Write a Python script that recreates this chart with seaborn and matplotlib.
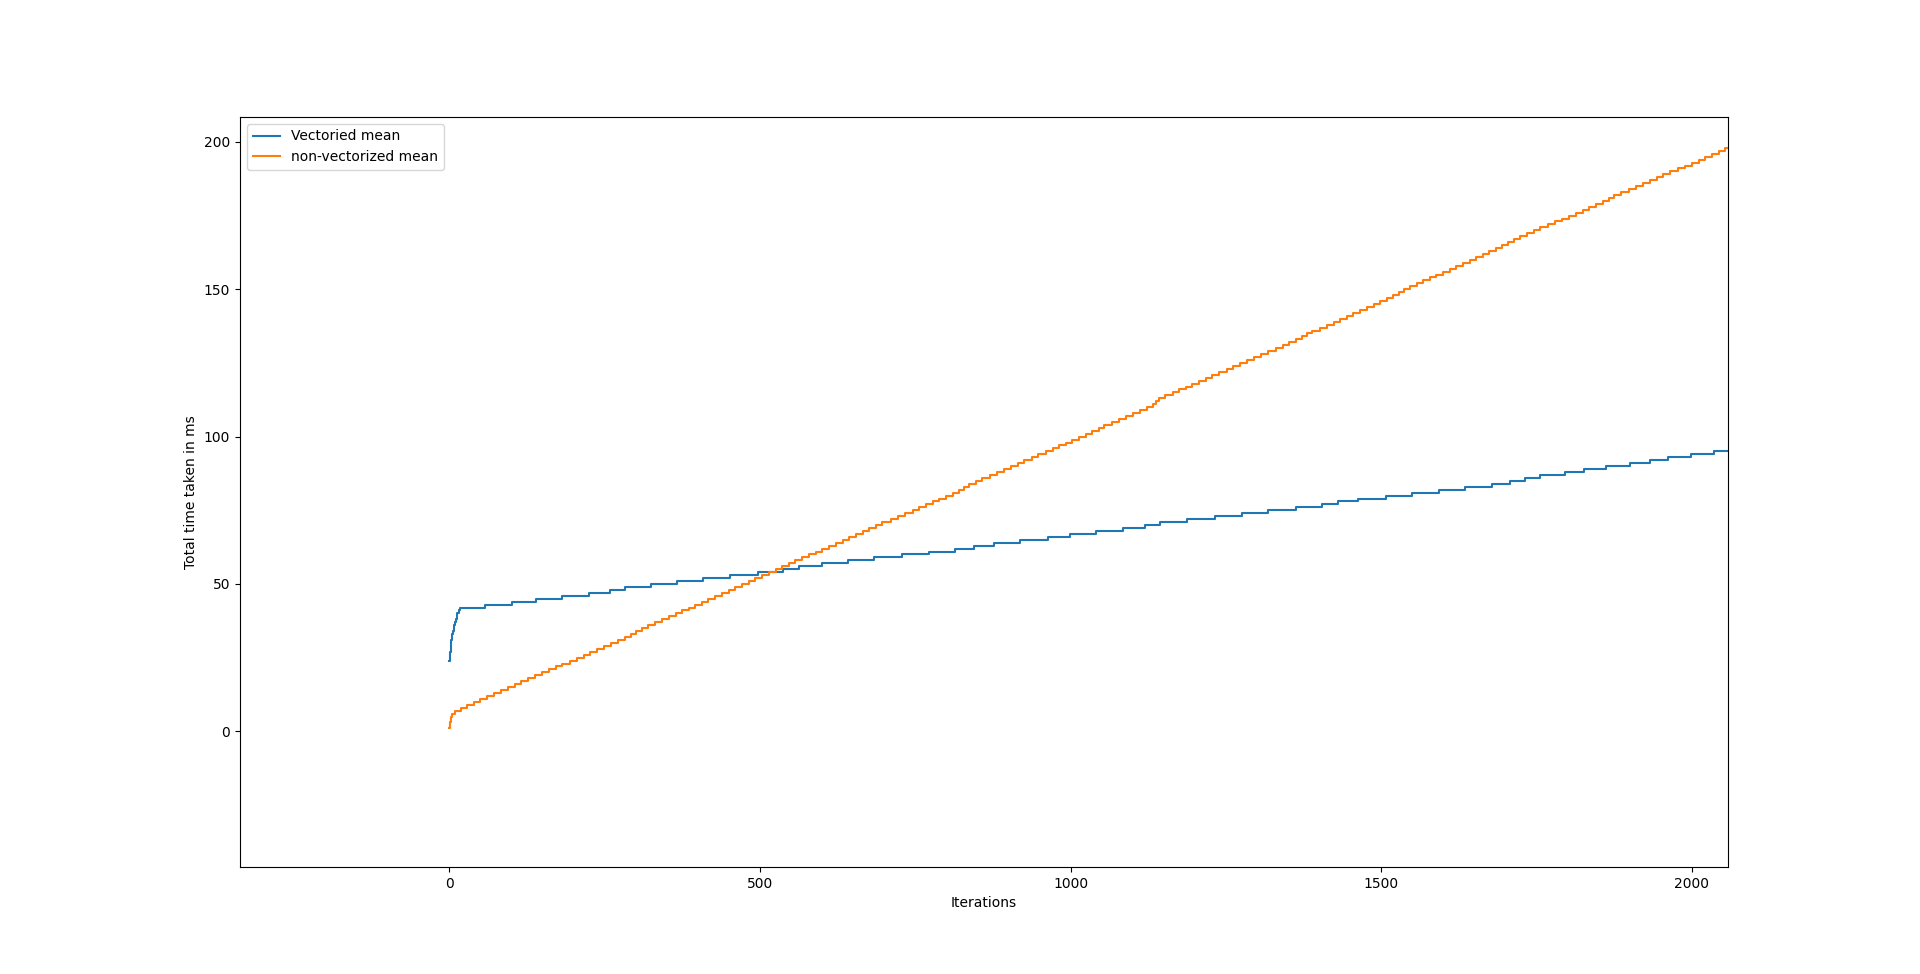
import numpy as np
import pandas as pd
import seaborn as sns
import matplotlib.pyplot as plt

# iteration at which each cumulative time (ms) is first reached
vec_iters = [0, 1, 2, 3, 4, 5, 6, 7, 8, 9, 10, 12, 13, 15, 17,
             57, 100, 139, 182, 224, 259, 283, 325, 366, 408,
             452, 497, 537, 563, 600, 642, 684, 728, 772, 814,
             844, 876, 918, 963, 999, 1041, 1085, 1119, 1144, 1187,
             1232, 1276, 1318, 1363, 1404, 1431, 1463, 1507, 1549, 1593,
             1634, 1678, 1707, 1732, 1756, 1795, 1827, 1862, 1901, 1933,
             1962, 1999, 2036, 2058]
vec_ms = [24, 27, 29, 31, 32, 33, 34, 35, 36, 37, 38, 39, 40, 41, 42,
          43, 44, 45, 46, 47, 48, 49, 50, 51, 52,
          53, 54, 55, 56, 57, 58, 59, 60, 61, 62,
          63, 64, 65, 66, 67, 68, 69, 70, 71, 72,
          73, 74, 75, 76, 77, 78, 79, 80, 81, 82,
          83, 84, 85, 86, 87, 88, 89, 90, 91, 92,
          93, 94, 95, 95]

nonvec_iters = [0, 1, 2, 3, 4,
                9, 18, 29, 40, 50, 61, 72, 83, 94, 105,
                116, 127, 138, 149, 160, 171, 182, 194, 205, 216,
                227, 238, 249, 260, 271, 282, 292, 300, 310, 320,
                331, 342, 353, 364, 374, 385, 396, 407, 417, 428,
                439, 450, 460, 471, 482, 492, 503, 514, 525, 536,
                547, 557, 568, 579, 590, 600, 611, 622, 633, 643,
                654, 665, 676, 686, 697, 711, 722, 734, 746, 756,
                767, 778, 788, 800, 810, 821, 829, 837, 848, 858,
                870, 881, 892, 904, 915, 925, 938, 948, 960, 971,
                982, 992, 1002, 1013, 1024, 1035, 1045, 1054, 1066, 1078,
                1089, 1100, 1112, 1123, 1132, 1137, 1142, 1152, 1164, 1175,
                1185, 1196, 1207, 1218, 1228, 1239, 1251, 1262, 1273, 1284,
                1295, 1306, 1318, 1330, 1341, 1352, 1362, 1373, 1381, 1389,
                1402, 1413, 1424, 1434, 1444, 1455, 1466, 1477, 1488, 1498,
                1509, 1519, 1528, 1536, 1546, 1557, 1567, 1578, 1588, 1599,
                1610, 1621, 1632, 1643, 1653, 1664, 1674, 1684, 1694, 1704,
                1714, 1724, 1734, 1745, 1756, 1768, 1779, 1791, 1802, 1814,
                1825, 1835, 1846, 1857, 1866, 1875, 1886, 1898, 1910, 1921,
                1932, 1943, 1953, 1965, 1977, 1988, 2000, 2011, 2021, 2032,
                2043, 2053, 2058]
nonvec_ms = [1, 3, 4, 5, 6,
             7, 8, 9, 10, 11, 12, 13, 14, 15, 16,
             17, 18, 19, 20, 21, 22, 23, 24, 25, 26,
             27, 28, 29, 30, 31, 32, 33, 34, 35, 36,
             37, 38, 39, 40, 41, 42, 43, 44, 45, 46,
             47, 48, 49, 50, 51, 52, 53, 54, 55, 56,
             57, 58, 59, 60, 61, 62, 63, 64, 65, 66,
             67, 68, 69, 70, 71, 72, 73, 74, 75, 76,
             77, 78, 79, 80, 81, 82, 83, 84, 85, 86,
             87, 88, 89, 90, 91, 92, 93, 94, 95, 96,
             97, 98, 99, 100, 101, 102, 103, 104, 105, 106,
             107, 108, 109, 110, 111, 112, 113, 114, 115, 116,
             117, 118, 119, 120, 121, 122, 123, 124, 125, 126,
             127, 128, 129, 130, 131, 132, 133, 134, 135, 136,
             137, 138, 139, 140, 141, 142, 143, 144, 145, 146,
             147, 148, 149, 150, 151, 152, 153, 154, 155, 156,
             157, 158, 159, 160, 161, 162, 163, 164, 165, 166,
             167, 168, 169, 170, 171, 172, 173, 174, 175, 176,
             177, 178, 179, 180, 181, 182, 183, 184, 185, 186,
             187, 188, 189, 190, 191, 192, 193, 194, 195, 196,
             197, 198, 198]

fig, ax = plt.subplots(figsize=(19.2, 9.74), dpi=100)

sns.lineplot(x=vec_iters, y=vec_ms, ax=ax, color='tab:blue',
             label='Vectoried mean', drawstyle='steps-post',
             estimator=None, sort=False)
sns.lineplot(x=nonvec_iters, y=nonvec_ms, ax=ax, color='tab:orange',
             label='non-vectorized mean', drawstyle='steps-post',
             estimator=None, sort=False)

ax.set_xlim(-337, 2058)
ax.set_ylim(-46, 208.5)
ax.set_xlabel('Iterations')
ax.set_ylabel('Total time taken in ms')
ax.legend(loc='upper left')

fig.savefig('out.png', dpi=100)
plt.close()
